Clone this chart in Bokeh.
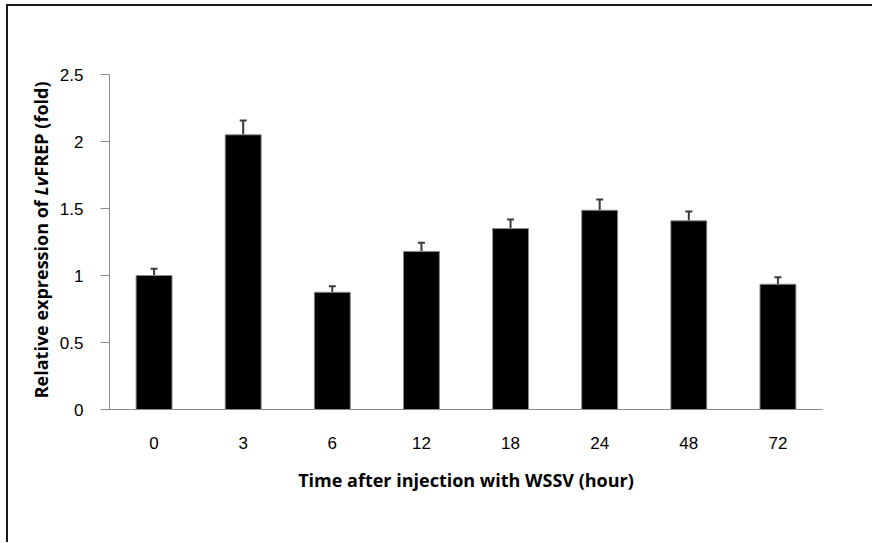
import math
from bokeh.plotting import figure
from bokeh.layouts import row
from bokeh.models import Range1d, FixedTicker, Whisker, TeeHead, ColumnDataSource
from bokeh.core.properties import value
from bokeh.embed import file_html
from bokeh.resources import INLINE

categories = ["0", "3", "6", "12", "18", "24", "48", "72"]
values = [1.00, 2.05, 0.875, 1.18, 1.35, 1.487, 1.408, 0.935]
errors = [0.05, 0.107, 0.045, 0.064, 0.068, 0.08, 0.07, 0.052]
y_ticks = [0, 0.5, 1, 1.5, 2, 2.5]
y_tick_labels = ["0", "0.5", "1", "1.5", "2", "2.5"]
y_title_parts = ["Relative expression of ", "Lv", "FREP (fold)"]
x_title = "Time after injection with WSSV (hour)"

H = 536
TOP = 68
BOTTOM = H - TOP - 335

xs = [i + 0.5 for i in range(len(categories))]
src = ColumnDataSource(dict(
    x=xs, top=values,
    upper=[v + e for v, e in zip(values, errors)],
))

p = figure(width=816, height=H, output_backend="svg", toolbar_location=None,
           x_range=Range1d(0, len(categories)), y_range=Range1d(0, 2.5),
           min_border_left=52, min_border_right=50, min_border_top=TOP,
           min_border_bottom=BOTTOM)
p.outline_line_color = None
p.xgrid.visible = False
p.ygrid.visible = False

p.vbar(x="x", top="top", width=0.403, source=src, fill_color="black",
       line_color="#8a8a8a", line_width=1)
p.add_layout(Whisker(base="x", lower="top", upper="upper", source=src,
                     line_color="#3a3a3a", line_width=2,
                     upper_head=TeeHead(size=7, line_color="#3a3a3a", line_width=2),
                     lower_head=None))

# x axis
xa = p.xaxis[0]
xa.ticker = FixedTicker(ticks=xs)
xa.major_label_overrides = {x: c for x, c in zip(xs, categories)}
xa.major_tick_line_color = None
xa.minor_tick_line_color = None
xa.axis_line_color = "#8a8a8a"
xa.major_label_standoff = 21
xa.major_label_text_font = "Liberation Sans"
xa.major_label_text_font_size = "17px"
xa.major_label_text_color = "black"
xa.axis_label = x_title
xa.axis_label_text_font = "Open Sans"
xa.axis_label_text_font_style = "bold"
xa.axis_label_text_font_size = "18px"
xa.axis_label_text_color = "black"
xa.axis_label_standoff = 16

# y axis
ya = p.yaxis[0]
ya.ticker = FixedTicker(ticks=y_ticks)
ya.major_label_overrides = {t: l for t, l in zip(y_ticks, y_tick_labels)}
ya.minor_tick_line_color = None
ya.axis_line_color = "#8a8a8a"
ya.major_tick_line_color = "#8a8a8a"
ya.major_tick_out = 9
ya.major_tick_in = 0
ya.major_label_standoff = 17
ya.major_label_text_font = "Liberation Sans"
ya.major_label_text_font_size = "17px"
ya.major_label_text_color = "black"

# left strip holding the rotated y-axis title (with italic gene prefix)
lf = figure(width=48, height=H, output_backend="svg", toolbar_location=None,
            x_range=Range1d(0, 1), y_range=Range1d(0, 2.5),
            min_border_left=0, min_border_right=0, min_border_top=TOP,
            min_border_bottom=BOTTOM)
lf.axis.visible = False
lf.grid.visible = False
lf.outline_line_color = None

y_split = 1.597
tx = 0.68
common = dict(angle=math.pi / 2, text_font=value("Open Sans"), text_font_size="18px",
              text_color="black", text_baseline="middle")
lf.text(x=[tx], y=[y_split], text=[y_title_parts[0]], text_align="right",
        text_font_style="bold", **common)
lf.text(x=[tx], y=[y_split], text=[y_title_parts[1]], text_align="left",
        text_font_style="bold italic", **common)
lf.text(x=[tx], y=[y_split + 19 / 134.0], text=[y_title_parts[2]], text_align="left",
        text_font_style="bold", **common)

layout = row(lf, p, spacing=0)
layout.styles = {"border-top": "2px solid #1a1a1a", "border-left": "2px solid #1a1a1a",
                 "border-right": "none", "border-bottom": "none",
                 "box-sizing": "content-box", "overflow": "visible",
                 "margin-top": "4px", "margin-left": "6px"}

open("out.html", "w").write(file_html(layout, INLINE))
